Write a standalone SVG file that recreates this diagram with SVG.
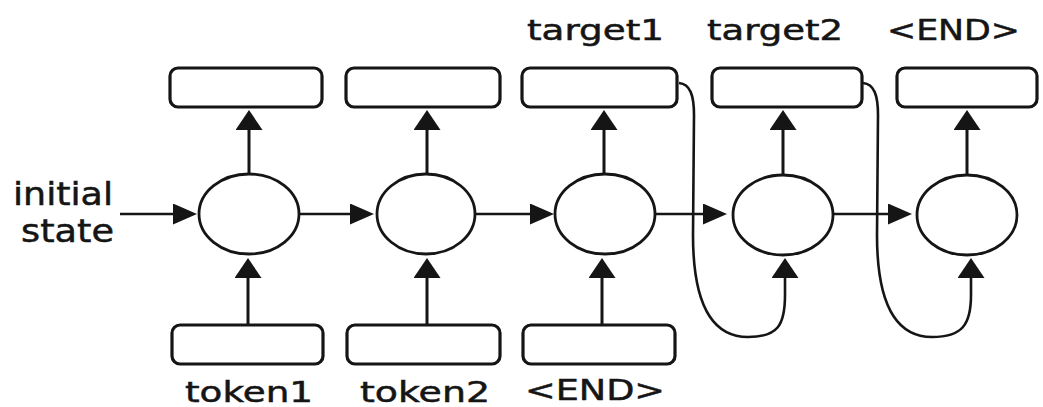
<svg xmlns="http://www.w3.org/2000/svg" width="1043" height="407" viewBox="0 0 1043 407">
  <style>
    .box { fill: #ffffff; stroke: #151515; stroke-width: 3.2; }
    .cell { fill: #ffffff; stroke: #151515; stroke-width: 2.8; }
    .v { fill: none; stroke: #151515; stroke-width: 3; marker-end: url(#headV); }
    .h { fill: none; stroke: #151515; stroke-width: 2.4; marker-end: url(#headH); }
    .loop { fill: none; stroke: #151515; stroke-width: 2.6; marker-end: url(#headV); }
    .lbl { font-family: "DejaVu Sans", Verdana, sans-serif; font-size: 28px; fill: #151515; stroke: #151515; stroke-width: 0.5; }
    .side { font-size: 32px; }
  </style>
  <defs>
    <marker id="headV" viewBox="0 0 20 27" refX="6" refY="13.5" markerWidth="20" markerHeight="27" markerUnits="userSpaceOnUse" orient="auto">
      <polygon points="0,0 20,13.5 0,27" fill="#151515"/>
    </marker>
    <marker id="headH" viewBox="0 0 24 21" refX="6" refY="10.5" markerWidth="24" markerHeight="21" markerUnits="userSpaceOnUse" orient="auto">
      <polygon points="0,0 24,10.5 0,21" fill="#151515"/>
    </marker>
  </defs>
  <rect width="1043" height="407" fill="#ffffff"/>

  <!-- connectors -->
  <g id="connectors">
    <!-- initial state into the first cell -->
    <path class="h" d="M120,214 L179,214"/>
    <!-- recurrent links between cells -->
    <path class="h" d="M299,214 L356,214"/>
    <path class="h" d="M475,214 L536,214"/>
    <path class="h" d="M655,214 L709,214"/>
    <path class="h" d="M834,214 L894,214"/>
    <!-- cell outputs -->
    <path class="v" d="M249,174 L249,124"/>
    <path class="v" d="M427,174 L427,124"/>
    <path class="v" d="M604,174 L604,124"/>
    <path class="v" d="M783,175 L783,124"/>
    <path class="v" d="M967,175 L967,124"/>
    <!-- encoder inputs -->
    <path class="v" d="M248,325 L248,272"/>
    <path class="v" d="M427,325 L427,272"/>
    <path class="v" d="M602,325 L602,272"/>
    <!-- previous output fed back as next input -->
    <path class="loop" d="M679,83 C690,84 694,95 694,115 L693,235 C693,300 710,337 748,337 C778,337 785,325 785,295 L785,272"/>
    <path class="loop" d="M863,83 C874,84 878,95 878,115 L877,235 C877,300 894,337 932,337 C962,337 971,325 971,295 L971,272"/>
  </g>

  <!-- output slots -->
  <g id="out1"><rect class="box" x="170" y="68" width="152" height="39" rx="8"/></g>
  <g id="out2"><rect class="box" x="346" y="68" width="154" height="39" rx="8"/></g>
  <g id="out3"><rect class="box" x="522" y="68" width="155" height="39" rx="8"/></g>
  <g id="out4"><rect class="box" x="712" y="68" width="150" height="39" rx="8"/></g>
  <g id="out5"><rect class="box" x="897" y="68" width="140" height="39" rx="8"/></g>

  <!-- recurrent cells -->
  <g id="cell1"><ellipse class="cell" cx="249" cy="214" rx="50" ry="40"/></g>
  <g id="cell2"><ellipse class="cell" cx="426" cy="214" rx="49" ry="40"/></g>
  <g id="cell3"><ellipse class="cell" cx="605" cy="214" rx="50" ry="40"/></g>
  <g id="cell4"><ellipse class="cell" cx="783" cy="215" rx="50" ry="40"/></g>
  <g id="cell5"><ellipse class="cell" cx="967" cy="215" rx="50" ry="40"/></g>

  <!-- input slots -->
  <g id="in1"><rect class="box" x="172" y="325" width="151" height="39" rx="8"/></g>
  <g id="in2"><rect class="box" x="347" y="325" width="153" height="39" rx="8"/></g>
  <g id="in3"><rect class="box" x="523" y="325" width="152" height="39" rx="8"/></g>

  <!-- labels -->
  <g id="labels">
    <text class="lbl side" x="13" y="205" textLength="100" lengthAdjust="spacingAndGlyphs">initial</text>
    <text class="lbl side" x="21" y="242" textLength="93" lengthAdjust="spacingAndGlyphs">state</text>
    <text class="lbl" x="527" y="40" textLength="137" lengthAdjust="spacingAndGlyphs">target1</text>
    <text class="lbl" x="707" y="40" textLength="136" lengthAdjust="spacingAndGlyphs">target2</text>
    <text class="lbl" x="887" y="40" textLength="133" lengthAdjust="spacingAndGlyphs">&lt;END&gt;</text>
    <text class="lbl" x="185" y="402" textLength="128" lengthAdjust="spacingAndGlyphs">token1</text>
    <text class="lbl" x="360" y="402" textLength="130" lengthAdjust="spacingAndGlyphs">token2</text>
    <text class="lbl" x="525" y="400" textLength="140" lengthAdjust="spacingAndGlyphs" style="font-size:29px">&lt;END&gt;</text>
  </g>
</svg>
